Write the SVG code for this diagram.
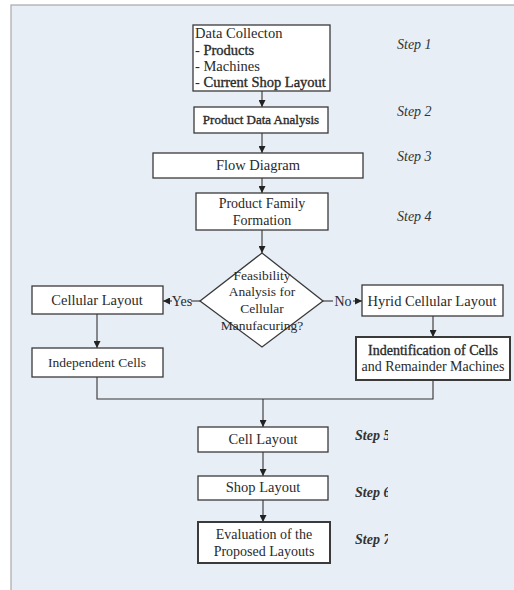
<svg xmlns="http://www.w3.org/2000/svg" width="514" height="590" viewBox="0 0 514 590">
<style>
.box{fill:#ffffff;stroke:#3a3a3a;stroke-width:1.3}
.thick{stroke-width:2}
.t{font-family:"Liberation Serif","Times New Roman",serif;font-size:13.5px;fill:#2a2a2a;text-anchor:middle}
.l{text-anchor:start}
.em{stroke:#2a2a2a;stroke-width:0.35}
.step{font-family:"Liberation Serif","Times New Roman",serif;font-size:14px;font-style:italic;fill:#333}
.c{fill:none;stroke:#333;stroke-width:1.1}
</style>
<defs>
<marker id="ah" viewBox="0 0 8 8" refX="8" refY="4" markerWidth="7" markerHeight="7" markerUnits="userSpaceOnUse" orient="auto">
<path d="M0,0 L8,4 L0,8 z" fill="#222"/>
</marker>
<clipPath id="clipSteps"><rect x="340" y="420" width="48" height="130"/></clipPath>
</defs>
<rect x="0" y="0" width="514" height="590" fill="#ffffff"/>
<rect x="11" y="5" width="510" height="590" fill="#e8eef6" stroke="#a8a8a8" stroke-width="1.2"/>

<g id="connectors">
<line class="c" x1="262" y1="91" x2="262" y2="107" marker-end="url(#ah)"/>
<line class="c" x1="262" y1="133" x2="262" y2="153" marker-end="url(#ah)"/>
<line class="c" x1="262" y1="178" x2="262" y2="193" marker-end="url(#ah)"/>
<line class="c" x1="262" y1="230" x2="262" y2="253" marker-end="url(#ah)"/>
<line class="c" x1="200" y1="301" x2="191" y2="301"/>
<line class="c" x1="172" y1="301" x2="163" y2="301" marker-end="url(#ah)"/>
<line class="c" x1="323" y1="301" x2="333" y2="301"/>
<line class="c" x1="353" y1="301" x2="362" y2="301" marker-end="url(#ah)"/>
<line class="c" x1="97" y1="314" x2="97" y2="348" marker-end="url(#ah)"/>
<line class="c" x1="433" y1="316" x2="433" y2="337" marker-end="url(#ah)"/>
<polyline class="c" points="97,377 97,399 433,399 433,380"/>
<line class="c" x1="263" y1="399" x2="263" y2="427" marker-end="url(#ah)"/>
<line class="c" x1="263" y1="452" x2="263" y2="476" marker-end="url(#ah)"/>
<line class="c" x1="263" y1="500" x2="263" y2="522" marker-end="url(#ah)"/>
<text class="t" x="182" y="306" style="font-size:14px">Yes</text>
<text class="t" x="343" y="306" style="font-size:14px">No</text>
</g>

<g id="n1">
<rect class="box" x="193" y="25" width="137" height="66"/>
<text class="t l" x="195" y="38" style="font-size:14.5px">Data Collecton</text>
<text class="t l" x="195" y="55" style="font-size:14.5px">- <tspan class="em">Products</tspan></text>
<text class="t l" x="195" y="71" style="font-size:14.5px">- Machines</text>
<text class="t l" x="195" y="87" style="font-size:14.5px">- <tspan class="em">Current Shop Layout</tspan></text>
</g>
<g id="n2">
<rect class="box" x="194" y="107" width="134" height="26"/>
<text class="t em" x="261" y="124" style="font-size:13px">Product Data Analysis</text>
</g>
<g id="n3">
<rect class="box" x="153" y="153" width="210" height="25"/>
<text class="t" x="258" y="170" style="font-size:14.5px">Flow Diagram</text>
</g>
<g id="n4">
<rect class="box" x="196" y="193" width="132" height="37"/>
<text class="t" x="262" y="208" style="font-size:14px">Product Family</text>
<text class="t" x="262" y="225" style="font-size:14px">Formation</text>
</g>
<g id="n5">
<polygon class="box" points="262,253 323,301 262,347 200,301"/>
<text class="t" x="262" y="280">Feasibility</text>
<text class="t" x="262" y="296">Analysis for</text>
<text class="t" x="262" y="313">Cellular</text>
<text class="t" x="262" y="330">Manufacuring?</text>
</g>
<g id="n6">
<rect class="box" x="32" y="286" width="131" height="28"/>
<text class="t" x="97" y="305" style="font-size:14.5px">Cellular Layout</text>
</g>
<g id="n7">
<rect class="box" x="362" y="285" width="141" height="31"/>
<text class="t" x="432" y="306" style="font-size:14.5px">Hyrid Cellular Layout</text>
</g>
<g id="n8">
<rect class="box" x="32" y="348" width="131" height="29"/>
<text class="t" x="97" y="367">Independent Cells</text>
</g>
<g id="n9">
<rect class="box thick" x="356" y="337" width="154" height="43"/>
<text class="t em" x="433" y="355" style="font-size:14px">Indentification of Cells</text>
<text class="t" x="433" y="371" style="font-size:14px">and Remainder Machines</text>
</g>
<g id="n10">
<rect class="box" x="198" y="427" width="130" height="25"/>
<text class="t" x="263" y="444" style="font-size:14.5px">Cell Layout</text>
</g>
<g id="n11">
<rect class="box" x="198" y="476" width="130" height="24"/>
<text class="t" x="263" y="492" style="font-size:14.5px">Shop Layout</text>
</g>
<g id="n12">
<rect class="box thick" x="198" y="522" width="132" height="41"/>
<text class="t" x="264" y="539" style="font-size:14px">Evaluation of the</text>
<text class="t" x="264" y="556" style="font-size:14px">Proposed Layouts</text>
</g>

<g id="steps">
<text class="step" x="397" y="49">Step 1</text>
<text class="step" x="397" y="116">Step 2</text>
<text class="step" x="397" y="161">Step 3</text>
<text class="step" x="397" y="221">Step 4</text>
<g clip-path="url(#clipSteps)" font-weight="bold">
<text class="step" x="355" y="440">Step 5</text>
<text class="step" x="355" y="497">Step 6</text>
<text class="step" x="355" y="544">Step 7</text>
</g>
</g>
</svg>
